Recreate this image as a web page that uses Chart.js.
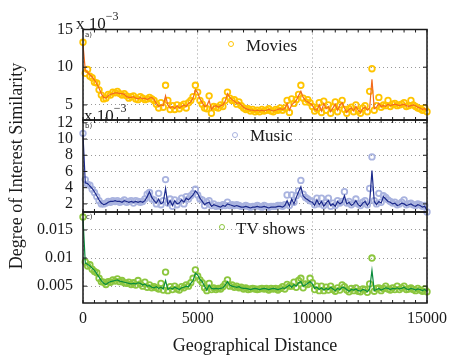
<!DOCTYPE html>
<html>
<head>
<meta charset="utf-8">
<script src="https://cdn.jsdelivr.net/npm/chart.js@4.4.1/dist/chart.umd.min.js"></script>
<style>
  body { margin: 0; background: #fff; }
  #wrap { position: relative; width: 453px; height: 362px; font-family: 'Liberation Serif', 'Times New Roman', serif; color: #1a1a1a; }
  #chart { position: absolute; left: 0; top: 0; }
  .txt { position: absolute; white-space: nowrap; line-height: 1; font-size: 17px; }
  .txt sup { font-size: 12px; position: relative; top: -2px; }
  .tag { position: absolute; font-family: 'DejaVu Sans', sans-serif; font-size: 7px; line-height: 1; color: #333; }
  .mark { position: absolute; width: 4px; height: 4px; border-radius: 50%; border: 1.8px solid; }
</style>
</head>
<body>
<div id="wrap">
  <canvas id="chart" width="453" height="362"></canvas>
  <div class="txt" style="left:76px; top:12px;">x 10<sup>&minus;3</sup></div>
  <div class="txt" style="left:84px; top:104px;">x 10<sup>&minus;3</sup></div>
  <div class="tag" style="left:85px; top:32px;">a)</div>
  <div class="tag" style="left:85px; top:123px;">b)</div>
  <div class="tag" style="left:86px; top:214px;">c)</div>
  <div class="mark" style="left:228px; top:41px; border-color:#ffc400;"></div>
  <div class="txt" style="left:246px; top:37px;">Movies</div>
  <div class="mark" style="left:232px; top:132px; border-color:#a9b3df;"></div>
  <div class="txt" style="left:250px; top:127px;">Music</div>
  <div class="mark" style="left:219px; top:224px; border-color:#8cc63e;"></div>
  <div class="txt" style="left:236px; top:220px;">TV shows</div>
</div>
<script>
// distance in km, one sample every 100
const distances = [0,100,200,300,400,500,600,700,800,900,1000,1100,1200,1300,1400,1500,1600,1700,1800,1900,
  2000,2100,2200,2300,2400,2500,2600,2700,2800,2900,3000,3100,3200,3300,3400,3500,3600,3700,3800,3900,
  4000,4100,4200,4300,4400,4500,4600,4700,4800,4900,5000,5100,5200,5300,5400,5500,5600,5700,5800,5900,
  6000,6100,6200,6300,6400,6500,6600,6700,6800,6900,7000,7100,7200,7300,7400,7500,7600,7700,7800,7900,
  8000,8100,8200,8300,8400,8500,8600,8700,8800,8900,9000,9100,9200,9300,9400,9500,9600,9700,9800,9900,
  10000,10100,10200,10300,10400,10500,10600,10700,10800,10900,11000,11100,11200,11300,11400,11500,11600,11700,11800,11900,
  12000,12100,12200,12300,12400,12500,12600,12700,12800,12900,13000,13100,13200,13300,13400,13500,13600,13700,13800,13900,
  14000,14100,14200,14300,14400,14500,14600,14700,14800,14900,15000];

// movies, x 10^-3
const moviesLine = [13.0,9.6,9.3,9.0,8.7,8.3,7.8,7.2,6.5,6.0, 5.9,6.2,6.4,6.5,6.6,6.6,6.5,6.5,6.4,6.1,
  6.0,6.0,6.1,5.9,5.8,6.0,5.8,5.9,5.7,5.9, 6.0,5.7,5.2,4.8,5.0,4.9,6.2,5.0,4.6,4.8,
  4.5,4.9,4.6,4.8,5.0,4.8,5.2,5.4,5.9,7.0, 6.6,5.8,5.3,4.8,4.9,5.6,4.4,4.8,4.9,4.7,
  4.9,5.0,5.5,6.5,6.0,5.7,5.5,5.2,5.3,5.0, 4.7,4.5,4.4,4.3,4.3,4.2,4.3,4.2,4.3,4.2,
  4.3,4.4,4.3,4.2,4.3,4.4,4.5,4.4,4.5,5.2, 4.3,5.0,5.3,5.6,6.2,6.8,6.0,5.6,5.4,5.2,
  5.0,4.4,4.3,5.0,4.2,5.2,4.5,4.8,4.1,4.6, 5.1,4.3,4.9,5.3,4.6,4.0,4.4,4.6,4.2,4.8,
  4.3,4.0,4.5,4.7,4.3,4.6,8.4,4.5,4.7,5.2, 4.8,4.9,4.8,5.1,4.9,5.0,5.1,5.0,4.9,5.0,
  5.1,4.9,4.8,4.9,5.0,4.9,4.7,4.6,4.4,4.5, 4.2];
const moviesPts = [13.3,9.2,9.7,8.8,8.6,8.0,7.9,7.0,6.3,5.8, 5.9,6.4,6.3,6.7,6.6,6.8,6.5,6.3,6.5,6.2,
  5.9,6.1,6.2,5.8,5.7,6.1,5.9,5.7,5.8,6.0, 5.8,5.6,5.1,4.6,5.3,4.7,7.6,5.6,4.4,4.9,
  4.4,5.0,4.5,4.9,5.1,4.6,5.3,5.6,6.1,7.6, 6.7,5.6,5.1,4.6,4.5,6.2,3.9,4.8,4.7,4.6,
  5.0,4.8,5.6,6.7,5.9,5.6,5.7,5.1,5.4,4.9, 4.6,4.4,4.5,4.2,4.4,4.1,4.3,4.1,4.4,4.2,
  4.3,4.5,4.2,4.1,4.4,4.3,4.6,4.3,4.6,5.6, 4.0,5.8,5.2,5.7,6.4,7.6,5.9,5.4,5.7,5.3,
  4.8,4.2,4.5,5.3,4.0,5.5,4.3,5.0,3.9,4.7, 5.4,4.1,5.0,5.6,4.4,3.9,4.5,4.7,4.1,5.0,
  4.2,3.9,4.6,4.9,4.1,6.8,9.8,4.3,4.9,6.0, 4.7,5.0,4.9,5.6,4.8,5.1,5.2,4.9,5.0,5.1,
  5.3,4.8,4.9,5.6,5.0,4.8,4.6,4.5,4.3,4.6, 4.1];

// music, x 10^-3
const musicLine = [10.5,4.6,4.5,4.2,3.9,3.5,3.0,2.5,2.1,1.9, 2.0,2.2,2.3,2.3,2.4,2.3,2.3,2.2,2.4,2.3,
  2.2,2.3,2.2,2.3,2.2,2.3,2.2,2.4,2.9,3.5, 2.8,2.4,2.1,2.6,2.0,2.2,3.9,1.9,2.4,1.8,
  2.4,2.0,2.1,2.5,2.2,2.7,2.5,2.8,3.1,3.6, 3.3,2.7,2.3,1.9,2.1,2.2,1.7,1.9,1.8,1.7,
  1.6,1.8,1.7,2.0,1.9,1.8,1.7,1.8,1.7,1.6, 1.6,1.7,1.6,1.5,1.6,1.6,1.7,1.6,1.6,1.7,
  1.6,1.5,1.6,1.6,1.6,1.7,1.7,1.6,1.8,2.4, 1.7,2.6,2.0,2.8,3.5,4.1,3.0,2.7,2.5,2.3,
  2.2,1.8,2.5,1.9,2.3,1.7,2.1,2.4,1.8,2.0, 1.7,2.3,2.0,2.2,3.0,2.0,2.2,1.8,2.0,2.4,
  1.9,1.7,2.1,2.3,1.8,2.2,6.1,2.3,1.9,2.3, 2.1,2.9,2.6,2.3,2.2,2.0,2.1,1.8,1.9,2.1,
  2.0,1.8,1.9,2.0,1.8,1.7,1.9,1.8,1.6,1.7, 1.2];
const musicPts = [10.7,5.0,4.4,4.3,3.8,3.4,2.9,2.4,2.0,2.0, 2.1,2.3,2.2,2.4,2.3,2.4,2.2,2.3,2.5,2.2,
  2.3,2.4,2.1,2.4,2.3,2.2,2.3,2.6,3.2,3.4, 2.6,2.5,2.0,3.3,1.9,2.4,5.0,2.1,2.6,1.7,
  2.5,1.9,2.3,2.7,2.0,2.9,2.6,3.0,3.3,3.8, 3.1,2.6,2.5,1.8,2.2,2.4,1.8,2.0,1.7,1.8,
  1.7,1.9,1.8,2.2,1.8,1.9,1.8,1.9,1.8,1.7, 1.7,1.8,1.7,1.6,1.7,1.7,1.8,1.7,1.6,1.8,
  1.7,1.6,1.7,1.7,1.7,1.8,1.8,1.7,1.9,3.1, 1.8,3.1,2.2,3.0,3.6,4.9,3.2,2.8,2.6,2.4,
  2.3,1.9,2.7,2.0,2.7,1.8,2.2,2.7,1.7,2.1, 1.8,2.4,2.1,2.3,3.5,2.1,2.3,1.9,2.1,2.6,
  2.0,1.8,2.2,2.4,1.9,3.9,7.8,2.4,2.0,3.3, 2.2,3.0,2.8,2.5,2.3,2.1,2.2,1.9,2.0,2.2,
  2.5,1.9,2.0,2.1,1.9,1.8,2.0,1.9,1.7,1.8, 1.0];

// tv shows
const tvLine = [0.0170,0.0091,0.0089,0.0086,0.0082,0.0078,0.0072,0.0066,0.0060,0.0055,
  0.0053,0.0056,0.0058,0.0059,0.0060,0.0061,0.0059,0.0058,0.0057,0.0056,
  0.0055,0.0054,0.0055,0.0054,0.0056,0.0055,0.0052,0.0054,0.0050,0.0051,
  0.0048,0.0047,0.0049,0.0046,0.0048,0.0045,0.0060,0.0044,0.0047,0.0045,
  0.0048,0.0046,0.0044,0.0047,0.0048,0.0050,0.0049,0.0055,0.0060,0.0073,
  0.0070,0.0062,0.0058,0.0050,0.0043,0.0052,0.0046,0.0045,0.0046,0.0045,
  0.0046,0.0047,0.0052,0.0058,0.0052,0.0050,0.0049,0.0048,0.0049,0.0047,
  0.0046,0.0046,0.0045,0.0044,0.0045,0.0046,0.0045,0.0044,0.0045,0.0046,
  0.0045,0.0044,0.0045,0.0046,0.0045,0.0044,0.0045,0.0047,0.0046,0.0049,
  0.0052,0.0048,0.0053,0.0050,0.0056,0.0058,0.0050,0.0052,0.0055,0.0058,
  0.0054,0.0046,0.0048,0.0044,0.0047,0.0043,0.0046,0.0044,0.0048,0.0045,
  0.0042,0.0046,0.0044,0.0048,0.0047,0.0044,0.0041,0.0044,0.0043,0.0045,
  0.0042,0.0041,0.0044,0.0043,0.0040,0.0045,0.0078,0.0042,0.0044,0.0046,
  0.0043,0.0045,0.0047,0.0046,0.0044,0.0046,0.0045,0.0047,0.0045,0.0046,
  0.0048,0.0045,0.0044,0.0046,0.0045,0.0043,0.0045,0.0044,0.0042,0.0044,
  0.0041];
const tvPts = [0.0173,0.0093,0.0086,0.0088,0.0080,0.0076,0.0074,0.0064,0.0058,0.0057,
  0.0053,0.0058,0.0057,0.0061,0.0059,0.0063,0.0058,0.0060,0.0056,0.0055,
  0.0057,0.0053,0.0056,0.0052,0.0060,0.0054,0.0050,0.0057,0.0048,0.0052,
  0.0047,0.0049,0.0047,0.0045,0.0055,0.0043,0.0075,0.0042,0.0049,0.0044,
  0.0050,0.0045,0.0043,0.0049,0.0047,0.0052,0.0050,0.0056,0.0064,0.0079,
  0.0068,0.0061,0.0056,0.0047,0.0042,0.0055,0.0044,0.0047,0.0044,0.0046,
  0.0045,0.0049,0.0054,0.0061,0.0050,0.0052,0.0048,0.0050,0.0047,0.0048,
  0.0045,0.0047,0.0044,0.0045,0.0046,0.0045,0.0044,0.0045,0.0046,0.0045,
  0.0046,0.0043,0.0046,0.0045,0.0046,0.0043,0.0046,0.0049,0.0045,0.0053,
  0.0050,0.0050,0.0057,0.0048,0.0060,0.0064,0.0047,0.0054,0.0053,0.0064,
  0.0056,0.0044,0.0050,0.0042,0.0050,0.0042,0.0048,0.0043,0.0050,0.0044,
  0.0041,0.0047,0.0043,0.0052,0.0049,0.0043,0.0040,0.0046,0.0042,0.0047,
  0.0041,0.0040,0.0045,0.0044,0.0039,0.0054,0.0100,0.0041,0.0046,0.0047,
  0.0042,0.0046,0.0050,0.0045,0.0043,0.0047,0.0044,0.0050,0.0044,0.0047,
  0.0050,0.0044,0.0045,0.0047,0.0044,0.0042,0.0046,0.0043,0.0041,0.0045,
  0.0040];

const xTicks = [0, 5000, 10000, 15000];
const moviesTicks = [5, 10, 15];
const musicTicks = [2, 4, 6, 8, 10, 12];
const tvTicks = [0.005, 0.01, 0.015];

const serif = "'Liberation Serif', 'Times New Roman', serif";
const ink = '#1a1a1a';

function xy(vals) {
  return distances.map((d, i) => ({ x: d, y: vals[i] }));
}

function lineSet(vals, axis, color) {
  return { data: xy(vals), yAxisID: axis, borderColor: color, borderWidth: 1.2,
    pointRadius: 0, tension: 0, clip: false, order: 1 };
}

function dotSet(vals, axis, color) {
  return { data: xy(vals), yAxisID: axis, showLine: false, borderColor: color,
    backgroundColor: 'rgba(0,0,0,0)', pointRadius: 2.8, pointBorderWidth: 1.8, clip: false, order: 2 };
}

// plain labels, no thousands separators
const plain = v => String(v);

function yScale(min, max, ticks, weight, extra) {
  return Object.assign({
    type: 'linear', position: 'left', stack: 'panels', stackWeight: weight,
    min: min, max: max,
    afterBuildTicks: s => { s.ticks = ticks.map(v => ({ value: v })); },
    afterFit: s => { s.width = 83; },
    ticks: { font: { family: serif, size: 16 }, color: ink, padding: 10, autoSkip: false, callback: plain },
    grid: { color: '#999', lineWidth: 1, drawTicks: false },
    border: { display: false, dash: [1, 3] }
  }, extra || {});
}

// panel frames and the little inner tick marks
const framePlugin = {
  id: 'frames',
  afterDatasetsDraw(chart) {
    const ctx = chart.ctx;
    const area = chart.chartArea;
    const xs = chart.scales.x;
    ctx.save();
    ctx.strokeStyle = ink;
    function seg(x1, y1, x2, y2) {
      ctx.beginPath(); ctx.moveTo(x1, y1); ctx.lineTo(x2, y2); ctx.stroke();
    }
    ['ya', 'yb', 'yc'].forEach(id => {
      const s = chart.scales[id];
      ctx.lineWidth = 1;
      for (let v = 0; v <= 15000; v += 500) {
        const px = xs.getPixelForValue(v);
        seg(px, s.top, px, s.top + 3);
        seg(px, s.bottom, px, s.bottom - 3);
      }
      s.ticks.forEach(t => {
        const py = s.getPixelForValue(t.value);
        seg(area.left, py, area.left + 4, py);
        seg(area.right, py, area.right - 4, py);
      });
      ctx.lineWidth = 1.5;
      ctx.strokeRect(area.left, s.top, area.right - area.left, s.bottom - s.top);
    });
    ctx.restore();
  }
};

new Chart(document.getElementById('chart'), {
  type: 'line',
  data: {
    datasets: [
      lineSet(moviesLine, 'ya', '#f26b1d'),
      dotSet(moviesPts, 'ya', '#ffc400'),
      lineSet(musicLine, 'yb', '#1c2a8c'),
      dotSet(musicPts, 'yb', '#a9b3df'),
      lineSet(tvLine, 'yc', '#0a8c3c'),
      dotSet(tvPts, 'yc', '#8cc63e')
    ]
  },
  options: {
    responsive: false,
    animation: false,
    devicePixelRatio: 1,
    layout: { padding: { top: 29.5, right: 22, left: 0, bottom: 0 } },
    plugins: { legend: { display: false }, tooltip: { enabled: false } },
    scales: {
      x: {
        type: 'linear', min: 0, max: 15000,
        afterBuildTicks: s => { s.ticks = xTicks.map(v => ({ value: v })); },
        afterFit: s => { s.height = 59; },
        ticks: { font: { family: serif, size: 16 }, color: ink, padding: 6, maxRotation: 0, callback: plain },
        grid: { color: '#999', lineWidth: 1, drawTicks: false },
        border: { display: false, dash: [1, 3] },
        title: { display: true, text: 'Geographical Distance', font: { family: serif, size: 18 }, color: ink, padding: { top: 0, bottom: 5 } }
      },
      // stacked axes are laid out bottom-up, so the lowest panel comes first
      yc: yScale(0.002, 0.0182, tvTicks, 91),
      yb: yScale(1, 12.35, musicTicks, 92, {
        title: { display: true, text: 'Degree of Interest Similarity', font: { family: serif, size: 18 }, color: ink, padding: { top: 6, bottom: 0 } }
      }),
      ya: yScale(3, 15, moviesTicks, 90.5)
    }
  },
  plugins: [framePlugin]
});
</script>
</body>
</html>
